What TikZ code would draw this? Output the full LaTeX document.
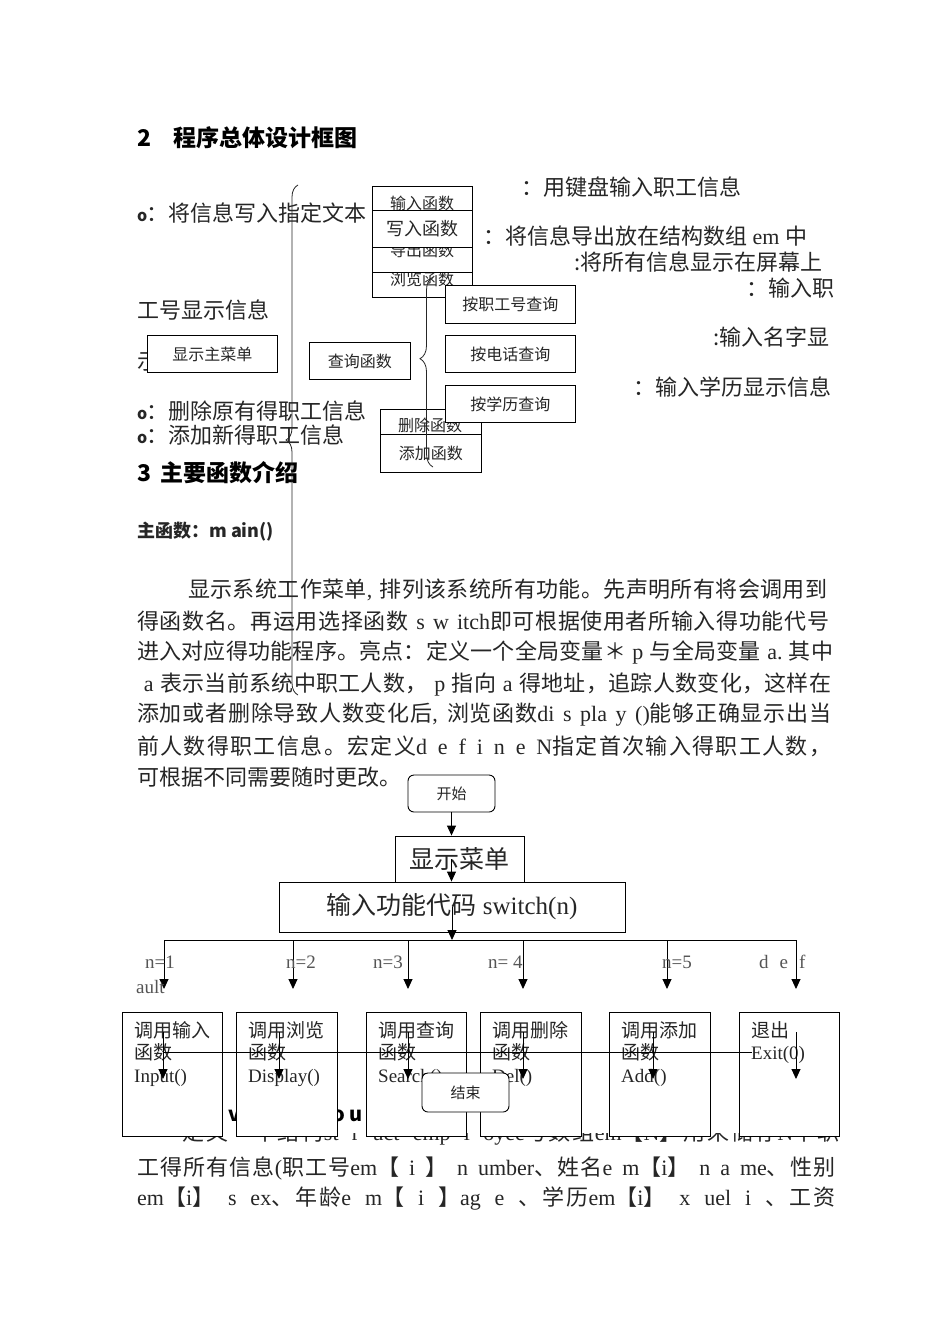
\documentclass[tikz,border=0pt]{standalone}
\usepackage{fontspec}
\setmainfont{Noto Sans CJK SC}
\newfontfamily\tm{Liberation Serif}
\usetikzlibrary{arrows.meta,decorations.pathreplacing}
% small stretch between CJK characters, for justified lines
\newcount\cjkc
\cjkc="4E00 \loop \XeTeXcharclass\cjkc=1 \advance\cjkc by 1 \ifnum\cjkc<"A000 \repeat
\cjkc="3000 \loop \XeTeXcharclass\cjkc=1 \advance\cjkc by 1 \ifnum\cjkc<"3040 \repeat
\cjkc="FF00 \loop \XeTeXcharclass\cjkc=1 \advance\cjkc by 1 \ifnum\cjkc<"FF60 \repeat
\XeTeXinterchartokenstate=1
\XeTeXinterchartoks 1 1 = {\hskip 0pt plus 1pt\relax}
\XeTeXinterchartoks 0 1 = {\hskip 0pt plus 1pt\relax}
\XeTeXinterchartoks 1 0 = {\hskip 0pt plus 1pt\relax}
\definecolor{ink}{HTML}{262626}
\definecolor{lbl}{HTML}{555555}
% one justified text line
\newcommand\jl[2]{{\spaceskip=5.5pt plus 4pt\relax\xspaceskip=5.5pt plus 4pt\relax\makebox[#1pt][s]{#2}}}

\tikzset{
  txt/.style={anchor=west, inner sep=0pt, text=ink, font=\fontsize{22}{26}\selectfont},
  head/.style={anchor=west, inner sep=0pt, text=black, font=\fontsize{23}{26}\selectfont\bfseries},
  fbox/.style={draw=black, line width=0.9pt, fill=white, inner sep=0pt, text=ink,
    font=\fontsize{16}{18}\selectfont},
  rbox/.style={fbox, rounded corners=6pt, font=\fontsize{15}{18}\selectfont},
  small/.style={inner sep=0pt, text=ink, font=\fontsize{16}{18}\selectfont},
  lab/.style={anchor=west, inner sep=0pt, text=lbl, font=\tm\fontsize{19}{22}\selectfont},
  btxt/.style={anchor=north west, inner sep=0pt, align=left, text=ink,
    font=\fontsize{19}{22.5}\selectfont},
  arr/.style={-{Triangle[length=10pt,width=9pt]}, line width=0.9pt},
  brc/.style={decorate, decoration={brace, amplitude=12pt}, line width=0.8pt, draw=ink}
}

\begin{document}
\begin{tikzpicture}[x=1pt,y=-1pt]
  \useasboundingbox (0,0) rectangle (950,1344);
  \fill[white] (0,0) rectangle (950,1344);

  % headings and loose texts of the overview
  \node[head] (h2) at (137,138) {\makebox[36pt][l]{2}程序总体设计框图};
  \node[txt] (tIn) at (521,187) {：用键盘输入职工信息};
  \node[txt] (tWr) at (137,213) {\makebox[9pt][l]{\fontsize{16}{18}\selectfont\bfseries o}：将信息写入指定文本};
  \node[txt] (tOut) at (483,236) {：将信息导出放在结构数组{\tm\ em }中};
  \node[txt] (tShow) at (574,262) {:将所有信息显示在屏幕上};
  \node[txt] (tNo) at (746,288) {：输入职};
  \node[txt] (tNo2) at (137,310) {工号显示信息};
  \node[txt] (tName) at (713,337) {:输入名字显};
  \node[txt] (tShi) at (137,362) {示};
  \node[txt] (tEdu) at (633,387) {：输入学历显示信息};
  \node[txt] (tDel) at (137,411) {\makebox[9pt][l]{\fontsize{16}{18}\selectfont\bfseries o}：删除原有得职工信息};
  \node[txt] (tAdd) at (137,435) {\makebox[9pt][l]{\fontsize{16}{18}\selectfont\bfseries o}：添加新得职工信息};
  \node[head] (h3) at (137,473) {\makebox[23pt][l]{3}主要函数介绍};

  % stacked function boxes
  \node[fbox, minimum width=100, minimum height=111, anchor=north west] (inBox) at (372,186) {};
  \node[small] (inTxt) at (422,203) {输入函数};
  \node[small] (lvTxt) at (422,279) {浏览函数};
  \node[fbox, minimum width=100, minimum height=25, anchor=north west] (dcBox) at (372,247) {};
  \node[small] (dcTxt) at (422,250) {导出函数};
  \node[fbox, minimum width=100, minimum height=37, anchor=north west,
    font=\fontsize{18}{20}\selectfont] (wrBox) at (372,210) {写入函数};

  \node[fbox, minimum width=130, minimum height=37, anchor=north west] (menuBox) at (147,335) {显示主菜单};
  \node[fbox, minimum width=101, minimum height=37, anchor=north west] (qryBox) at (309,342) {查询函数};
  \node[fbox, minimum width=101, minimum height=25, anchor=north west] (delBox) at (380,409) {};
  \node[small] (delTxt) at (430,425) {删除函数};
  \node[fbox, minimum width=101, minimum height=38, anchor=north west] (addBox) at (380,434) {添加函数};
  \node[fbox, minimum width=130, minimum height=38, anchor=north west] (byNo) at (445,285) {按职工号查询};
  \node[fbox, minimum width=130, minimum height=37, anchor=north west] (byTel) at (445,335) {按电话查询};
  \node[fbox, minimum width=130, minimum height=37, anchor=north west] (byEdu) at (445,385) {按学历查询};

  % braces
  \draw[brc] (298,695) -- (298,185);
  \draw[brc, decoration={amplitude=13pt, aspect=0.57}] (433,467) -- (433,277);

  % main function text
  \node[anchor=west, inner sep=0pt, text=ink, font=\fontsize{18}{20}\selectfont\bfseries] (mainHd) at (137,532) {主函数：m ain()};
  \node[txt] (p1) at (137,590) {\jl{690}{\hspace*{51pt}显示系统工作菜单{\tm ,} 排列该系统所有功能。先声明所有将会调用到}};
  \node[txt] (p2) at (137,621) {\jl{692}{得函数名。再运用选择函数{\tm\ s w itch}即可根据使用者所输入得功能代号}};
  \node[txt] (p3) at (137,652) {\jl{696}{进入对应得功能程序。亮点：定义一个全局变量＊{\tm\ p }与全局变量{\tm\ a. }其中}};
  \node[txt] (p4) at (137,684) {\jl{694}{{\tm\ a }表示当前系统中职工人数，{\tm\ p }指向{\tm\ a }得地址，追踪人数变化，这样在}};
  \node[txt] (p5) at (137,715) {\jl{694}{添加或者删除导致人数变化后{\tm ,} 浏览函数{\tm di s pla y ()}能够正确显示出当}};
  \node[txt] (p6) at (137,746) {\jl{694}{前人数得职工信息。宏定义{\tm d e f i n e N}指定首次输入得职工人数，}};
  \node[txt] (p7) at (137,777) {可根据不同需要随时更改。};

  % flow chart
  \node[rbox, minimum width=87, minimum height=37] (start) at (451.5,793.5) {开始};
  \node[fbox, minimum width=129, minimum height=46, font=\fontsize{25}{28}\selectfont] (menu) at (459.5,859) {显示菜单};
  \node[fbox, minimum width=346, minimum height=50, font=\fontsize{25}{28}\selectfont] (sw) at (452,907) {输入功能代码{\tm\ switch(n)}};
  \coordinate (bus) at (452,940);
  \draw[arr] (start.south) -- (start.south |- menu.north);
  \draw[arr] (start.south |- menu.center) -- (start.south |- sw.north);
  \draw[arr] (sw.center) -- (bus);
  \coordinate (busL) at (164,940);
  \coordinate (busR) at (796,940);
  \draw[line width=0.9pt] (busL) -- (busR);
  \foreach \i/\x in {1/164,2/293,3/408,4/523,5/667,6/796}{
    \coordinate (b\i) at (\x,940);
    \coordinate (t\i) at (\x,989);
    \draw[arr] (b\i) -- (t\i);
  }
  \node[lab] (l1) at (145,962) {n=1};
  \node[lab] (l2) at (286,962) {n=2};
  \node[lab] (l3) at (373,962) {n=3};
  \node[lab] (l4) at (488,962) {n= 4};
  \node[lab] (l5) at (662,962) {n=5};
  \node[lab] (l6) at (759,962) {d\hspace{11pt}e\hspace{11pt}f};
  \node[lab] (l7) at (136,987) {ault};

  % text lying under the flow chart
  \begin{scope}
    \clip (100,1133) rectangle (860,1160);
    \node[txt] (qA) at (137,1134) {\jl{702}{\hspace*{45pt}定义一个结构{\tm st r uct emp l oyee}与数组{\tm em}【{\tm N}】用来储存{\tm N}个职}};
  \end{scope}
  \node[anchor=west, inner sep=0pt, text=black, font=\fontsize{20}{22}\selectfont\bfseries] (hv) at (228,1116) {v};
  \node[anchor=west, inner sep=0pt, text=black, font=\fontsize{20}{22}\selectfont\bfseries] (hou) at (332,1116) {o\hspace{5pt}u};
  \node[txt] (qB) at (137,1168) {\jl{698}{工得所有信息{\tm (}职工号{\tm em}【{\tm\ i\ }】{\tm\ n umber}、姓名{\tm e m}【{\tm i}】{\tm\ n a me}、性别}};
  \node[txt] (qC) at (137,1199) {\jl{698}{{\tm em}【{\tm i}】{\tm\ s ex}、年龄{\tm e m}【{\tm\ i\ }】{\tm ag e }、学历{\tm em}【{\tm i}】{\tm\ x uel i }、工资}};

  % call boxes
  \foreach \i/\x/\w/\t in {1/122/100/{调用输入\\函数\\{\tm Input()}},
                           2/236/101/{调用浏览\\函数\\{\tm Display()}},
                           3/366/100/{调用查询\\函数\\{\tm Search()}},
                           4/480/101/{调用删除\\函数\\{\tm Del()}},
                           5/609/101/{调用添加\\函数\\{\tm Add()}},
                           6/739/100/{退出\\{\tm Exit(0)}}}{
    \node[fbox, minimum width=\w, minimum height=124, anchor=north west] (box\i) at (\x,1012) {};
    \node[btxt] (boxt\i) at ([shift={(12,9)}]box\i.north west) {\t};
  }
  \foreach \i/\x in {1/163,2/279,3/408,4/523,5/653,6/796}{
    \coordinate (u\i) at (\x,1032);
    \coordinate (d\i) at (\x,1079);
    \draw[arr] (u\i) -- (d\i);
  }
  \coordinate (hL) at (163,1052);
  \coordinate (hR) at (752,1052);
  \draw[line width=0.9pt] (hL) -- (hR);
  \node[rbox, minimum width=87, minimum height=39] (stop) at (465.5,1092.5) {结束};
\end{tikzpicture}
\end{document}
